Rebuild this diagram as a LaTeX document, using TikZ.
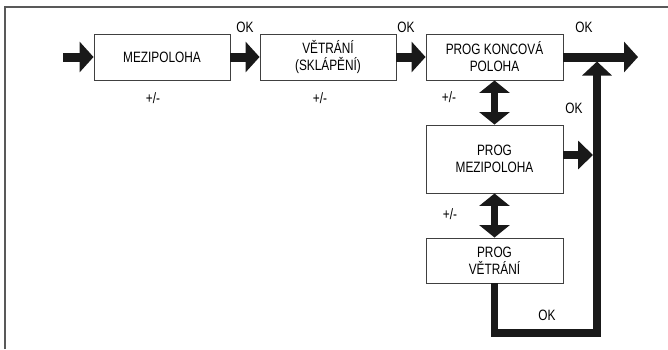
\documentclass[tikz,border=0pt]{standalone}
\usepackage{fontspec}
\setmainfont{Liberation Sans}[FakeStretch=0.79]
\usetikzlibrary{arrows.meta}
\begin{document}
\begin{tikzpicture}[x=1pt,y=-1pt,
  box/.style={draw=black!75, line width=0.9pt, fill=white, minimum width=137pt, inner sep=0pt, align=center, font=\fontsize{15}{17}\selectfont},
  lbl/.style={font=\fontsize{15}{17}\selectfont, inner sep=0pt},
  fat/.style={line width=9pt, draw=black!90, -{Triangle[width=30pt,length=14pt]}},
  mid/.style={line width=7.5pt, draw=black!90, -{Triangle[width=28pt,length=15pt]}},
  dbl/.style={line width=7.5pt, draw=black!90, {Triangle[width=30pt,length=12.5pt]}-{Triangle[width=30pt,length=12.5pt]}},
  loop/.style={line width=7.5pt, draw=black!90, line join=miter, -{Triangle[width=29pt,length=14pt]}},
  frame/.style={draw=black!65, line width=2pt}
]
\useasboundingbox (0,0) rectangle (668,349);
\draw[frame] (5,349) -- (5,7) -- (668,7);

\node[box, minimum width=136pt, minimum height=46pt] (b1) at (162,57) {MEZIPOLOHA};
\node[box, minimum width=136pt, minimum height=46pt] (b2) at (328,57) {VĚTRÁNÍ\\(SKLÁPĚNÍ)};
\node[box, minimum height=46pt] (b3) at (494.5,57) {PROG KONCOVÁ\\POLOHA};
\node[box, minimum height=68pt] (b4) at (494.5,159) {PROG\\MEZIPOLOHA};
\node[box, minimum height=45pt] (b5) at (494.5,260.5) {PROG\\VĚTRÁNÍ};

\coordinate (in) at (63,57);
\coordinate (out) at (638,57);
\coordinate (j) at (597,61.5);
\coordinate (m) at (593,155);
\coordinate (bot) at (597,333);

\draw[fat] (in) -- (b1.west);
\draw[fat] (b1.east) -- (b2.west);
\draw[fat] (b2.east) -- (b3.west);
\draw[fat] (b3.east) -- (out);
\draw[dbl] (b3.south) -- (b4.north);
\draw[dbl] (b4.south) -- (b5.north);
\draw[mid] ([yshift=4pt]b4.east) -- (m);
\draw[loop] (b5.south) |- (bot) -- (j);

\node[lbl] (ok1) at (245,27) {OK};
\node[lbl] (ok2) at (406,27) {OK};
\node[lbl] (ok3) at (584,27) {OK};
\node[lbl] (ok4) at (574,108) {OK};
\node[lbl] (ok5) at (547,315) {OK};
\node[lbl] (pm1) at (153,98) {+/-};
\node[lbl] (pm2) at (320,98) {+/-};
\node[lbl] (pm3) at (449,97) {+/-};
\node[lbl] (pm4) at (450,214) {+/-};
\end{tikzpicture}
\end{document}
